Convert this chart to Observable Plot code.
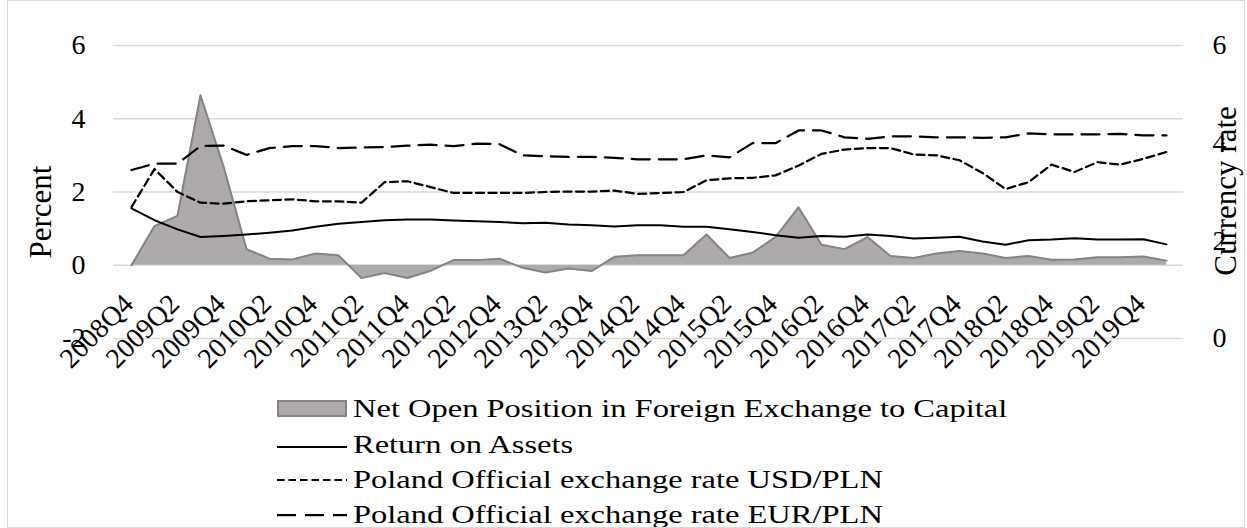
<!DOCTYPE html>
<html><head><meta charset="utf-8">
<script src="https://cdn.jsdelivr.net/npm/d3@7"></script>
<script src="https://cdn.jsdelivr.net/npm/@observablehq/plot@0.6"></script>
<style>
body{margin:0;background:#fff;}
#wrap{position:relative;width:1247px;height:528px;overflow:hidden;font-family:"Liberation Serif","Times New Roman",serif;}
#frame{position:absolute;left:7px;top:0;width:1236px;height:526px;border:1px solid #d9d9d9;pointer-events:none;}
#chart{position:absolute;left:0;top:0;}
#legend{position:absolute;left:0;top:385px;}
</style></head><body>
<div id="wrap"><div id="chart"></div><svg id="legend" width="1247" height="143"></svg><div id="frame"></div></div>
<script>
const quarters = ["2008Q4","2009Q1","2009Q2","2009Q3","2009Q4","2010Q1","2010Q2","2010Q3","2010Q4","2011Q1","2011Q2","2011Q3","2011Q4","2012Q1","2012Q2","2012Q3","2012Q4","2013Q1","2013Q2","2013Q3","2013Q4","2014Q1","2014Q2","2014Q3","2014Q4","2015Q1","2015Q2","2015Q3","2015Q4","2016Q1","2016Q2","2016Q3","2016Q4","2017Q1","2017Q2","2017Q3","2017Q4","2018Q1","2018Q2","2018Q3","2018Q4","2019Q1","2019Q2","2019Q3","2019Q4","2020Q1"];
const xTickLabels = ["2008Q4","2009Q2","2009Q4","2010Q2","2010Q4","2011Q2","2011Q4","2012Q2","2012Q4","2013Q2","2013Q4","2014Q2","2014Q4","2015Q2","2015Q4","2016Q2","2016Q4","2017Q2","2017Q4","2018Q2","2018Q4","2019Q2","2019Q4"];
// Net Open Position in Foreign Exchange to Capital (percent, left axis)
const nopCapital = [0,1.07,1.35,4.64,2.7,0.44,0.18,0.16,0.32,0.27,-0.35,-0.21,-0.35,-0.15,0.14,0.14,0.18,-0.07,-0.2,-0.09,-0.16,0.23,0.27,0.27,0.27,0.84,0.2,0.34,0.77,1.58,0.56,0.44,0.77,0.25,0.2,0.32,0.39,0.32,0.2,0.25,0.15,0.16,0.22,0.22,0.24,0.12];
// Return on Assets (percent, left axis)
const returnOnAssets = [1.55,1.23,0.98,0.77,0.8,0.84,0.89,0.95,1.05,1.13,1.18,1.23,1.25,1.25,1.22,1.2,1.18,1.15,1.16,1.11,1.09,1.06,1.09,1.09,1.05,1.05,0.98,0.91,0.82,0.75,0.8,0.78,0.84,0.8,0.73,0.75,0.78,0.65,0.56,0.68,0.7,0.74,0.7,0.7,0.71,0.57];
// Poland Official exchange rate USD/PLN (right axis)
const usdPln = [2.69,3.47,3.0,2.78,2.76,2.81,2.83,2.85,2.81,2.81,2.78,3.2,3.22,3.1,2.98,2.98,2.98,2.98,3.0,3.01,3.01,3.03,2.96,2.98,3.0,3.24,3.28,3.29,3.34,3.54,3.78,3.87,3.9,3.9,3.77,3.75,3.65,3.39,3.06,3.2,3.56,3.41,3.61,3.56,3.68,3.82];
// Poland Official exchange rate EUR/PLN (right axis)
const eurPln = [3.45,3.58,3.58,3.94,3.95,3.76,3.9,3.94,3.94,3.9,3.91,3.92,3.95,3.97,3.94,3.99,3.98,3.75,3.73,3.72,3.72,3.7,3.67,3.67,3.67,3.75,3.71,4.0,4.0,4.26,4.26,4.12,4.09,4.14,4.14,4.12,4.12,4.11,4.12,4.2,4.18,4.18,4.18,4.19,4.16,4.16];
const leftTicks = [-2,0,2,4,6];
const rightTicks = [0,2,4,6];
const seriesNames = ["Net Open Position in Foreign Exchange to Capital","Return on Assets","Poland Official exchange rate USD/PLN","Poland Official exchange rate EUR/PLN"];
const leftTitle = "Percent";
const rightTitle = "Currency rate";

const data = quarters.map((q,i)=>({q, nop:nopCapital[i], roa:returnOnAssets[i], usd:usdPln[i], eur:eurPln[i]}));
// right axis 0..6 shares the frame with left axis -2..6
const toLeft = r => r*4/3 - 2;
const rightTickPos = rightTicks.map(toLeft);

const FONT = "'Liberation Serif','Times New Roman',serif";
const FS = 28;
const AREA_FILL = "#aeaaaa", AREA_STROKE = "#858383";
const chart = Plot.plot({
  width:1247, height:385,
  marginTop:45, marginBottom:47, marginLeft:113, marginRight:64,
  style:{fontFamily:FONT, fontSize:FS+"px", color:"#000", background:"transparent", overflow:"visible"},
  x:{type:"point", domain:quarters, padding:0.5, axis:null},
  y:{domain:[-2,6]},
  marks:[
    Plot.ruleY(leftTicks, {stroke:"#d9d9d9", strokeWidth:1.5}),
    Plot.areaY(data, {x:"q", y:"nop", fill:AREA_FILL}),
    Plot.lineY(data, {x:"q", y:"nop", stroke:AREA_STROKE, strokeWidth:2}),
    Plot.lineY(data, {x:"q", y:"roa", stroke:"#000", strokeWidth:2}),
    Plot.lineY(data, {x:"q", y:d=>toLeft(d.usd), stroke:"#000", strokeWidth:2.25, strokeDasharray:"8,4.5"}),
    Plot.lineY(data, {x:"q", y:d=>toLeft(d.eur), stroke:"#000", strokeWidth:2.25, strokeDasharray:"18,9"}),
    Plot.axisY(leftTicks, {anchor:"left", tickSize:0, tickPadding:28, fontSize:FS, label:null, tickFormat:d=>String(d)}),
    Plot.axisY(rightTickPos, {anchor:"right", tickSize:0, tickPadding:29, fontSize:FS, label:null, tickFormat:v=>String(Math.round((v+2)*3/4))}),
    Plot.text(xTickLabels, {x:d=>d, y:0, text:d=>d, rotate:-45, textAnchor:"end", dx:-3, dy:34, fontSize:FS})
  ]
});
document.getElementById("chart").appendChild(chart);

// axis titles
const svg = d3.select(chart);
svg.append("text").attr("transform","translate(41,212) rotate(-90)").attr("text-anchor","middle").attr("dy","0.32em")
  .attr("font-family",FONT).attr("font-size","31px").attr("fill","#000").text(leftTitle);
svg.append("text").attr("transform","translate(1226,191) rotate(-90)").attr("text-anchor","middle").attr("dy","0.32em")
  .attr("font-family",FONT).attr("font-size","31px").attr("fill","#000").text(rightTitle);

// legend
const lg = d3.select("#legend");
const rowBase = [32, 68, 103, 138];
const sw = [277, 347];
lg.append("rect").attr("x",sw[0]+1).attr("y",rowBase[0]-16).attr("width",sw[1]-sw[0]-2).attr("height",15).attr("fill",AREA_FILL).attr("stroke",AREA_STROKE).attr("stroke-width",2);
lg.append("line").attr("x1",sw[0]).attr("x2",sw[1]).attr("y1",rowBase[1]-6).attr("y2",rowBase[1]-6).attr("stroke","#000").attr("stroke-width",2);
lg.append("line").attr("x1",sw[0]).attr("x2",sw[1]).attr("y1",rowBase[2]-8).attr("y2",rowBase[2]-8).attr("stroke","#000").attr("stroke-width",2).attr("stroke-dasharray","7.5,4");
lg.append("line").attr("x1",sw[0]).attr("x2",sw[1]).attr("y1",rowBase[3]-8).attr("y2",rowBase[3]-8).attr("stroke","#000").attr("stroke-width",2.25).attr("stroke-dasharray","19,9");
seriesNames.forEach((s,i)=>{
  lg.append("text").attr("transform",`translate(353,${rowBase[i]}) scale(1.3,1)`)
    .attr("font-family",FONT).attr("font-size","25px").attr("fill","#000").text(s);
});
</script>
</body></html>
